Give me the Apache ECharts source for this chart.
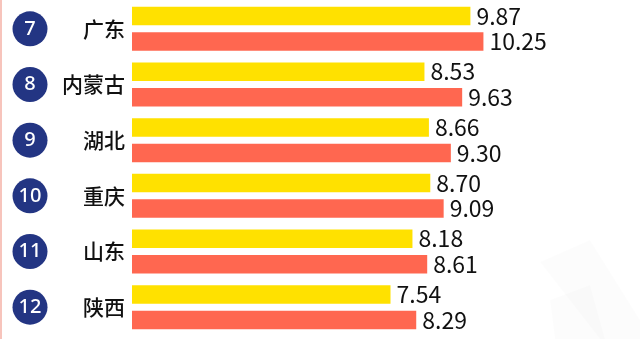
<!DOCTYPE html>
<html><head><meta charset="utf-8">
<style>html,body{margin:0;padding:0;background:#fff}#c{width:640px;height:339px}</style>
<script src="https://cdn.jsdelivr.net/npm/echarts@6/dist/echarts.min.js"></script>
</head><body><div id="c"></div>
<script>
var categories = ['广东','内蒙古','湖北','重庆','山东','陕西'];
var ranks = [7, 8, 9, 10, 11, 12];
var seriesA = [9.87, 8.53, 8.66, 8.70, 8.18, 7.54];
var seriesB = [10.25, 9.63, 9.30, 9.09, 8.61, 8.29];

var chart = echarts.init(document.getElementById('c'));
var labelStyle = {show:true, position:'right', distance:6, fontSize:23, color:'#111',
  fontFamily:'"Noto Sans CJK SC", "Noto Sans", sans-serif',
  formatter:function(p){return p.value.toFixed(2);}};
chart.setOption({
  animation:false,
  backgroundColor:'#fff',
  graphic:[
    {type:'rect', left:0, top:0, shape:{width:2, height:339}, style:{fill:'#f7c4bc'}, z:-1},
    {type:'polygon', shape:{points:[[540,262],[590,240],[640,320],[640,339],[600,339]]}, style:{fill:'rgba(0,0,0,0.012)'}, z:-1},
    {type:'polygon', shape:{points:[[550,300],[590,285],[605,339],[555,339]]}, style:{fill:'rgba(0,0,0,0.01)'}, z:-1}
  ],
  grid:[
    {left:132, right:28, top:1, bottom:4},
    {left:12, width:36, top:1, bottom:4}
  ],
  xAxis:[
    {type:'value', gridIndex:0, min:0, max:14, show:false},
    {type:'value', gridIndex:1, min:0, max:2, show:false}
  ],
  yAxis:[
    {type:'category', gridIndex:0, data:categories, inverse:true,
     axisLine:{show:false}, axisTick:{show:false}, splitLine:{show:false},
     axisLabel:{margin:7, fontSize:21, color:'#111', fontWeight:500,
       fontFamily:'"Noto Sans CJK SC", sans-serif'}},
    {type:'category', gridIndex:1, data:categories, inverse:true, show:false}
  ],
  series:[
    {type:'bar', xAxisIndex:0, yAxisIndex:0, data:seriesA, barWidth:18.5, barGap:'38%',
     itemStyle:{color:'#ffe100'}, label:labelStyle},
    {type:'bar', xAxisIndex:0, yAxisIndex:0, data:seriesB, barWidth:18.5, barGap:'38%',
     itemStyle:{color:'#ff6750'}, label:labelStyle},
    {type:'scatter', xAxisIndex:1, yAxisIndex:1, symbol:'circle', symbolSize:35,
     data:ranks.map(function(r,i){return [1, categories[i], r];}),
     itemStyle:{color:'#233583', opacity:1},
     label:{show:true, position:'inside', color:'#fff', fontSize:20, fontWeight:500,
       fontFamily:'"Noto Sans", sans-serif',
       formatter:function(p){return p.value[2];}}}
  ]
});
</script></body></html>
